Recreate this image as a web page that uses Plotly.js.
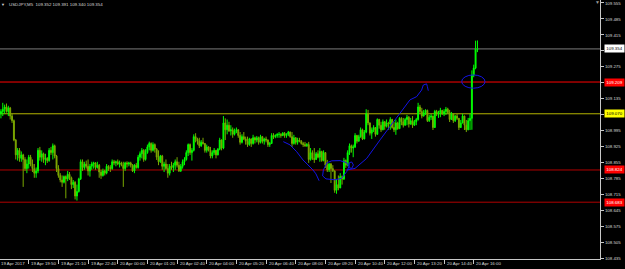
<!DOCTYPE html>
<html>
<head>
<meta charset="utf-8">
<script src="https://cdn.plot.ly/plotly-3.0.1.min.js"></script>
<style>
html,body{margin:0;padding:0;background:#000;}
#chart{width:625px;height:269px;}
</style>
</head>
<body>
<div id="chart"></div>
<script>
// ---- OHLC data (USDJPY, M5), one entry per bar ----
const opens = [
109.070,109.080,109.090,109.100,109.080,109.095,109.060,109.040,108.955,108.890,
108.910,108.875,108.890,108.870,108.830,108.850,108.880,108.850,108.830,108.810,
108.820,108.910,108.880,108.895,108.870,108.875,108.865,108.910,108.900,108.930,
108.885,108.830,108.800,108.780,108.770,108.795,108.785,108.805,108.790,108.760,
108.770,108.710,108.730,108.785,108.860,108.835,108.850,108.840,108.820,108.840,
108.850,108.855,108.835,108.845,108.815,108.800,108.820,108.810,108.840,108.835,
108.830,108.860,108.855,108.860,108.850,108.855,108.845,108.830,108.855,108.850,
108.855,108.845,108.820,108.845,108.835,108.880,108.895,108.910,108.870,108.900,
108.925,108.940,108.910,108.935,108.915,108.880,108.860,108.885,108.840,108.850,
108.830,108.810,108.840,108.835,108.845,108.860,108.845,108.820,108.840,108.860,
108.870,108.900,108.935,108.900,108.910,108.970,108.960,108.950,108.930,108.945,
108.940,108.910,108.925,108.910,108.885,108.900,108.910,108.890,108.915,108.955,
108.920,109.030,109.000,109.020,108.995,109.000,108.980,108.995,109.000,108.975,
108.945,108.970,108.960,108.950,108.935,108.960,108.940,108.965,108.955,108.965,
108.945,108.970,108.950,108.960,108.955,108.935,108.940,108.975,108.970,108.975,
108.980,108.980,108.975,108.985,108.975,108.980,108.990,108.970,108.940,108.965,
108.945,108.955,108.950,108.940,108.935,108.930,108.935,108.870,108.900,108.875,
108.870,108.895,108.880,108.905,108.865,108.900,108.845,108.825,108.850,108.830,
108.820,108.735,108.760,108.745,108.795,108.785,108.865,108.845,108.900,108.930,
108.920,108.925,108.975,108.950,108.970,109.000,108.960,108.990,109.070,109.030,
108.985,109.000,109.010,108.980,109.045,109.020,109.000,109.035,109.015,109.030,
109.025,109.045,109.010,109.000,109.030,109.005,109.050,109.035,109.020,109.045,
109.055,109.025,109.040,109.020,109.035,109.045,109.100,109.080,109.060,109.075,
109.085,109.040,109.055,109.060,109.010,109.080,109.070,109.075,109.085,109.070,
109.080,109.090,109.075,109.045,109.070,109.040,109.060,109.050,109.010,109.030,
109.060,109.020,109.000,109.040,109.050,109.240,109.270,109.352];
const highs = [
109.090,109.118,109.110,109.115,109.105,109.100,109.070,109.045,108.960,108.920,
108.920,108.905,108.895,108.880,108.870,108.890,108.890,108.870,108.850,108.835,
108.920,108.925,108.910,108.900,108.895,108.880,108.920,108.925,108.940,108.935,
108.890,108.845,108.810,108.800,108.800,108.800,108.820,108.815,108.795,108.780,
108.775,108.760,108.790,108.870,108.870,108.860,108.865,108.870,108.850,108.860,
108.860,108.858,108.860,108.850,108.825,108.830,108.825,108.850,108.845,108.845,
108.870,108.868,108.865,108.870,108.865,108.860,108.860,108.860,108.862,108.860,
108.860,108.850,108.850,108.855,108.890,108.905,108.920,108.915,108.915,108.935,
108.948,108.945,108.945,108.940,108.920,108.910,108.890,108.890,108.860,108.870,
108.850,108.850,108.860,108.855,108.870,108.880,108.860,108.850,108.870,108.880,
108.910,108.940,108.940,108.920,108.980,108.985,108.965,108.965,108.955,108.965,
108.942,108.935,108.928,108.925,108.910,108.920,108.912,108.920,108.965,108.958,
109.060,109.050,109.045,109.035,109.020,109.010,109.005,109.010,109.002,108.990,
108.980,108.990,108.970,108.970,108.965,108.962,108.978,108.970,108.973,108.970,
108.978,108.973,108.965,108.970,108.958,108.947,108.985,108.985,108.980,108.985,
108.990,108.985,108.990,108.990,108.985,108.995,108.992,108.990,108.978,108.968,
108.965,108.965,108.955,108.947,108.947,108.942,108.947,108.920,108.910,108.920,
108.903,108.910,108.920,108.908,108.910,108.902,108.868,108.855,108.855,108.845,
108.822,108.785,108.800,108.810,108.800,108.877,108.870,108.910,108.940,108.935,
108.935,108.985,108.978,108.978,109.010,109.005,108.999,109.090,109.087,109.032,
109.010,109.020,109.012,109.050,109.048,109.035,109.045,109.038,109.045,109.035,
109.055,109.048,109.035,109.045,109.035,109.055,109.055,109.052,109.052,109.065,
109.060,109.052,109.060,109.043,109.052,109.118,109.109,109.096,109.087,109.090,
109.088,109.065,109.069,109.062,109.087,109.087,109.083,109.096,109.087,109.090,
109.100,109.096,109.087,109.078,109.072,109.065,109.069,109.052,109.043,109.070,
109.062,109.043,109.052,109.070,109.260,109.285,109.390,109.391];
const lows = [
109.050,109.060,109.070,109.075,109.060,109.045,109.030,108.950,108.870,108.865,
108.860,108.860,108.750,108.820,108.810,108.830,108.840,108.815,108.790,108.790,
108.810,108.865,108.860,108.855,108.845,108.855,108.860,108.890,108.870,108.875,
108.815,108.790,108.770,108.750,108.765,108.700,108.775,108.780,108.740,108.745,
108.695,108.690,108.725,108.780,108.820,108.825,108.830,108.800,108.795,108.825,
108.830,108.825,108.830,108.790,108.785,108.795,108.800,108.805,108.820,108.815,
108.825,108.845,108.840,108.845,108.835,108.840,108.750,108.820,108.835,108.840,
108.835,108.815,108.810,108.830,108.830,108.865,108.875,108.860,108.865,108.895,
108.910,108.900,108.905,108.900,108.868,108.845,108.855,108.825,108.815,108.825,
108.790,108.800,108.825,108.815,108.825,108.835,108.815,108.815,108.830,108.845,
108.865,108.885,108.890,108.865,108.905,108.945,108.935,108.920,108.925,108.935,
108.900,108.900,108.905,108.875,108.875,108.890,108.875,108.888,108.910,108.910,
108.915,108.955,108.980,108.990,108.975,108.965,108.975,108.985,108.965,108.935,
108.940,108.955,108.935,108.925,108.930,108.925,108.935,108.940,108.945,108.935,
108.940,108.940,108.935,108.945,108.925,108.925,108.938,108.960,108.963,108.965,
108.965,108.965,108.972,108.965,108.965,108.972,108.965,108.925,108.935,108.935,
108.935,108.945,108.935,108.925,108.925,108.925,108.855,108.865,108.868,108.855,
108.868,108.875,108.860,108.860,108.862,108.833,108.815,108.815,108.767,108.815,
108.724,108.720,108.735,108.745,108.760,108.780,108.833,108.840,108.890,108.900,
108.880,108.920,108.940,108.948,108.965,108.955,108.958,108.985,109.020,108.975,
108.960,108.990,108.970,108.978,109.005,108.990,108.998,109.000,109.010,109.000,
109.000,109.005,108.990,108.978,109.000,109.003,109.020,109.010,109.018,109.020,
109.010,109.022,109.008,109.017,109.020,109.040,109.070,109.050,109.058,109.065,
109.034,109.034,109.043,108.999,109.008,109.060,109.052,109.055,109.065,109.060,
109.065,109.069,109.034,109.043,109.030,109.034,109.043,108.999,109.008,109.028,
108.999,108.990,108.998,108.999,109.000,109.230,109.265,109.340];
const closes = [
109.080,109.090,109.100,109.080,109.095,109.060,109.040,108.955,108.890,108.910,
108.875,108.890,108.870,108.830,108.850,108.880,108.850,108.830,108.810,108.820,
108.910,108.880,108.895,108.870,108.875,108.865,108.910,108.900,108.930,108.885,
108.830,108.800,108.780,108.770,108.795,108.785,108.805,108.790,108.760,108.770,
108.710,108.730,108.785,108.860,108.835,108.850,108.840,108.820,108.840,108.850,
108.855,108.835,108.845,108.815,108.800,108.820,108.810,108.840,108.835,108.830,
108.860,108.855,108.860,108.850,108.855,108.845,108.830,108.855,108.850,108.855,
108.845,108.820,108.845,108.835,108.880,108.895,108.910,108.870,108.900,108.925,
108.940,108.910,108.935,108.915,108.880,108.860,108.885,108.840,108.850,108.830,
108.810,108.840,108.835,108.845,108.860,108.845,108.820,108.840,108.860,108.870,
108.900,108.935,108.900,108.910,108.970,108.960,108.950,108.930,108.945,108.940,
108.910,108.925,108.910,108.885,108.900,108.910,108.890,108.915,108.955,108.920,
109.030,109.000,109.020,108.995,109.000,108.980,108.995,109.000,108.975,108.945,
108.970,108.960,108.950,108.935,108.960,108.940,108.965,108.955,108.965,108.945,
108.970,108.950,108.960,108.955,108.935,108.940,108.975,108.970,108.975,108.980,
108.980,108.975,108.985,108.975,108.980,108.990,108.970,108.940,108.965,108.945,
108.955,108.950,108.940,108.935,108.930,108.935,108.870,108.900,108.875,108.870,
108.895,108.880,108.905,108.865,108.900,108.845,108.825,108.850,108.830,108.820,
108.735,108.760,108.745,108.795,108.785,108.865,108.845,108.900,108.930,108.920,
108.925,108.975,108.950,108.970,109.000,108.960,108.990,109.070,109.030,108.985,
109.000,109.010,108.980,109.045,109.020,109.000,109.035,109.015,109.030,109.025,
109.045,109.010,109.000,109.030,109.005,109.050,109.035,109.020,109.045,109.055,
109.025,109.040,109.020,109.035,109.045,109.100,109.080,109.060,109.075,109.085,
109.040,109.055,109.060,109.010,109.080,109.070,109.075,109.085,109.070,109.080,
109.090,109.075,109.045,109.070,109.040,109.060,109.050,109.010,109.030,109.060,
109.020,109.000,109.040,109.050,109.240,109.270,109.352,109.354];

// time-axis labels and the bar index each one belongs to
const timeLabels = ["19 Apr 2017","19 Apr 19:50","19 Apr 21:10","19 Apr 22:40","20 Apr 00:00",
  "20 Apr 01:20","20 Apr 02:40","20 Apr 04:00","20 Apr 05:20","20 Apr 06:40","20 Apr 08:00",
  "20 Apr 09:20","20 Apr 10:40","20 Apr 12:00","20 Apr 13:20","20 Apr 14:40","20 Apr 16:00"];
const timeLabelBars = [-0.5,15,31,47,63,79,95,111,127,143,159,175,191,207,223,239,255];

// price-axis ticks (labels hidden where a level box sits on top of them)
const priceTicks = [108.435,108.505,108.575,108.645,108.715,108.785,108.855,108.925,108.995,
  109.065,109.135,109.205,109.275,109.345,109.415,109.485,109.555];
const priceTickText = ["108.435","108.505","108.575","108.645","108.715","108.785","108.855",
  "108.925","108.995","","109.135","","109.275","","109.415","109.485","109.555"];

// horizontal levels drawn on the chart
const levelPrices = [109.354, 109.209, 109.070, 108.824, 108.683];
const levelLabels = ["109.354","109.209","109.070","108.824","108.683"];

// header
const symbolTitle = "USDJPY,M5";
const headerOHLC = ["109.352","109.391","109.340","109.354"];

// hand-drawn blue strokes (bar index, price)
const strokeDownX = [152.3,155.9,159.5,162.9,165.6,168.3,169.9,171.6];
const strokeDownY = [108.948,108.934,108.904,108.868,108.846,108.824,108.807,108.777];
const loopX = [175.9,178.4,182.9,186.5,187.7,186.5,183.8,180.2,175.3,173.5,173.9,175.9];
const loopY = [108.856,108.864,108.865,108.856,108.839,108.817,108.788,108.781,108.785,108.798,108.824,108.856];
const smallLoopX = [187.9,189.2,190.1,189.2,187.7,187.9];
const smallLoopY = [108.856,108.859,108.846,108.831,108.834,108.856];
const strokeUpX = [186.5,191.0,197.3,204.5,209.8,215.2,220.6,224.2,226.9,227.8,229.6,230.0,230.5];
const strokeUpY = [108.824,108.831,108.875,108.956,109.014,109.072,109.131,109.145,109.174,109.196,109.201,109.189,109.171];
const ringX = [248.5, 261.1];
const ringY = [109.182, 109.240];

// ---------------------------------------------------
const bars = closes.map((_, i) => i);
const FONT = "Liberation Sans, Arial, sans-serif";
const TXT = "#d8d8d8";

function pathOf(xs, ys){
  return xs.map((x,i)=>(i?"L":"M")+x+","+ys[i]).join(" ");
}

const trace = {
  type: "candlestick",
  x: bars, open: opens, high: highs, low: lows, close: closes,
  increasing: {line: {color: "#00ff00", width: 1}, fillcolor: "#00ff00"},
  decreasing: {line: {color: "#7aa800", width: 1}, fillcolor: "#a89c00"},
  whiskerwidth: 0,
  hoverinfo: "skip",
  showlegend: false
};

const levelColors = ["#7a7a7a","#ff0000","#b4b400","#b00000","#b00000"];
const boxColors = ["#ffffff","#ff0000","#ffff00","#ff0000","#ff0000"];
const boxText = ["#000000","#ffffff","#000000","#ffffff","#ffffff"];

const shapes = levelPrices.map((p,i)=>({
  type:"line", xref:"paper", yref:"y", x0:0, x1:1, y0:p, y1:p,
  line:{color:levelColors[i], width:1}, layer:"below"
}));
const blue = {color:"#1414e6", width:1};
[[strokeDownX,strokeDownY],[loopX,loopY],[smallLoopX,smallLoopY],[strokeUpX,strokeUpY]].forEach(s=>{
  shapes.push({type:"path", xref:"x", yref:"y", path:pathOf(s[0],s[1]), line:blue});
});
shapes.push({type:"circle", xref:"x", yref:"y", x0:ringX[0], x1:ringX[1], y0:ringY[0], y1:ringY[1], line:blue});

const annotations = [];
levelPrices.forEach((p,i)=>{
  annotations.push({
    xref:"paper", yref:"y", x:1.0067, y:p, xanchor:"left", yanchor:"middle",
    text:levelLabels[i], showarrow:false, bgcolor:boxColors[i], borderpad:0,
    width:19, height:7, align:"center",
    font:{family:FONT, size:4.4, color:boxText[i]}
  });
});
timeLabels.forEach((t,i)=>{
  annotations.push({
    xref:"x", yref:"paper", x: timeLabelBars[i] + (i ? 0.9 : 0), y:-0.0155,
    xanchor:"left", yanchor:"middle", text:t, showarrow:false, borderpad:0,
    font:{family:FONT, size:4.4, color:TXT}
  });
});
annotations.push({
  xref:"paper", yref:"paper", x:8/600, y:1-5/259, xanchor:"left", yanchor:"middle",
  text: symbolTitle + "  " + headerOHLC.join(" "), showarrow:false, borderpad:0,
  font:{family:FONT, size:4.4, color:TXT}
});
annotations.push({
  xref:"paper", yref:"paper", x:3/600, y:1-5/259, xanchor:"center", yanchor:"middle",
  text:"▼", showarrow:false, borderpad:0, font:{family:FONT, size:4, color:TXT}
});
annotations.push({
  xref:"paper", yref:"paper", x:597/600, y:1-2/259, xanchor:"center", yanchor:"middle",
  text:"▼", showarrow:false, borderpad:0, font:{family:FONT, size:5, color:"#9a9a9a"}
});

const layout = {
  width: 625, height: 269,
  margin: {l:0, r:25, t:0, b:10, pad:0},
  paper_bgcolor: "#000000", plot_bgcolor: "#000000",
  showlegend: false,
  xaxis: {
    range: [-0.5, 323.1], showgrid:false, zeroline:false,
    showline:true, linecolor:"#c8c8c8", linewidth:1,
    tickmode:"array", tickvals: timeLabelBars.slice(1), ticktext: timeLabelBars.slice(1).map(()=>""),
    ticks:"outside", ticklen:4, tickcolor:"#c8c8c8", tickwidth:1,
    showticklabels:false, rangeslider:{visible:false}, fixedrange:true
  },
  yaxis: {
    side:"right", range:[108.4343, 109.5681], showgrid:false, zeroline:false,
    showline:true, linecolor:"#c8c8c8", linewidth:1,
    tickmode:"array", tickvals: priceTicks, ticktext: priceTickText,
    ticks:"outside", ticklen:3, tickcolor:"#c8c8c8", tickwidth:1,
    tickfont:{family:FONT, size:4.4, color:TXT}, fixedrange:true
  },
  shapes: shapes,
  annotations: annotations
};

Plotly.newPlot("chart", [trace], layout, {staticPlot:true, displayModeBar:false});
</script>
</body>
</html>
